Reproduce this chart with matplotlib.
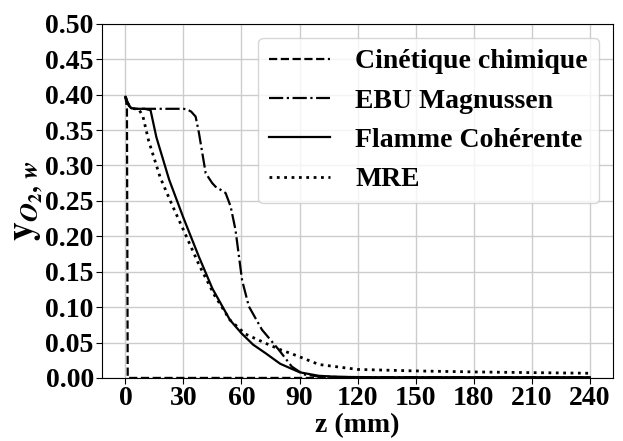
import matplotlib; matplotlib.use('Agg')
import matplotlib.pyplot as plt

plt.rcParams['font.family'] = 'Liberation Serif'
plt.rcParams['font.weight'] = 'bold'
plt.rcParams['mathtext.fontset'] = 'stix'

# Cinetique chimique
z_cin = [0, 0.4, 0.8, 1.2, 240]
y_cin = [0.397, 0.39, 0.38, 0.0, 0.0]

# EBU Magnussen
z_ebu = [0, 1, 2, 3, 5, 10, 20, 30, 32, 34, 36.3, 38, 41.5, 44.9, 46.6, 49, 51.8, 54.4, 56.9, 60.3, 63.8, 70.6, 79.2, 86, 92, 100, 120, 150, 240]
y_ebu = [0.397, 0.39, 0.384, 0.381, 0.38, 0.38, 0.38, 0.38, 0.379, 0.376, 0.369, 0.346, 0.289, 0.275, 0.27, 0.266, 0.261, 0.242, 0.209, 0.138, 0.101, 0.068, 0.040, 0.016, 0.005, 0.002, 0.001, 0.001, 0.001]

# Flamme Coherente
z_fc = [0, 1, 2, 3, 5, 10, 13, 16, 22.6, 30, 38, 45, 54, 60, 66, 72.4, 80, 90, 100, 110, 130, 160, 240]
y_fc = [0.397, 0.39, 0.384, 0.381, 0.38, 0.38, 0.378, 0.34, 0.28, 0.226, 0.171, 0.126, 0.082, 0.063, 0.047, 0.035, 0.020, 0.008, 0.003, 0.0015, 0.001, 0.001, 0.001]

# MRE
z_mre = [0, 1, 2, 3, 5, 7, 9, 12, 18, 24, 30, 38, 46, 54, 62, 72.4, 80, 88, 100, 120, 150, 180, 210, 240]
y_mre = [0.397, 0.39, 0.384, 0.381, 0.38, 0.379, 0.37, 0.335, 0.283, 0.245, 0.209, 0.160, 0.117, 0.082, 0.062, 0.049, 0.040, 0.032, 0.019, 0.012, 0.0099, 0.0085, 0.0075, 0.0066]

FS = 20
fig = plt.figure(figsize=(6.23, 4.41), dpi=100)
ax = fig.add_axes([0.164, 0.143, 0.82, 0.803])
ax.plot(z_cin, y_cin, 'k--', lw=1.6, label='Cinétique chimique')
ax.plot(z_ebu, y_ebu, 'k-.', lw=1.6, label='EBU Magnussen')
ax.plot(z_fc, y_fc, 'k-', lw=1.6, label='Flamme Cohérente')
ax.plot(z_mre, y_mre, 'k:', lw=2.0, label='MRE')

ax.set_xlim(-12, 252)
ax.set_ylim(0, 0.5)
ax.set_xticks(range(0, 241, 30))
ax.set_yticks([i * 0.05 for i in range(11)])
ax.set_yticklabels(['%.2f' % (i * 0.05) for i in range(11)])
ax.tick_params(labelsize=FS, length=4, pad=2)
for lab in ax.get_xticklabels() + ax.get_yticklabels():
    lab.set_fontweight('bold')
ax.grid(True, color='#cccccc', lw=1)
ax.set_axisbelow(True)
ax.set_xlabel('z (mm)', fontsize=FS, fontweight='bold', labelpad=1)
ax.set_ylabel(r'$\mathrm{y}_{O_2,\,w}$', fontsize=27, labelpad=0)
ax.legend(loc='upper right', handlelength=2.2, handletextpad=0.9,
          prop={'weight': 'bold', 'size': FS})
fig.savefig('out.png', dpi=100, facecolor='white')
